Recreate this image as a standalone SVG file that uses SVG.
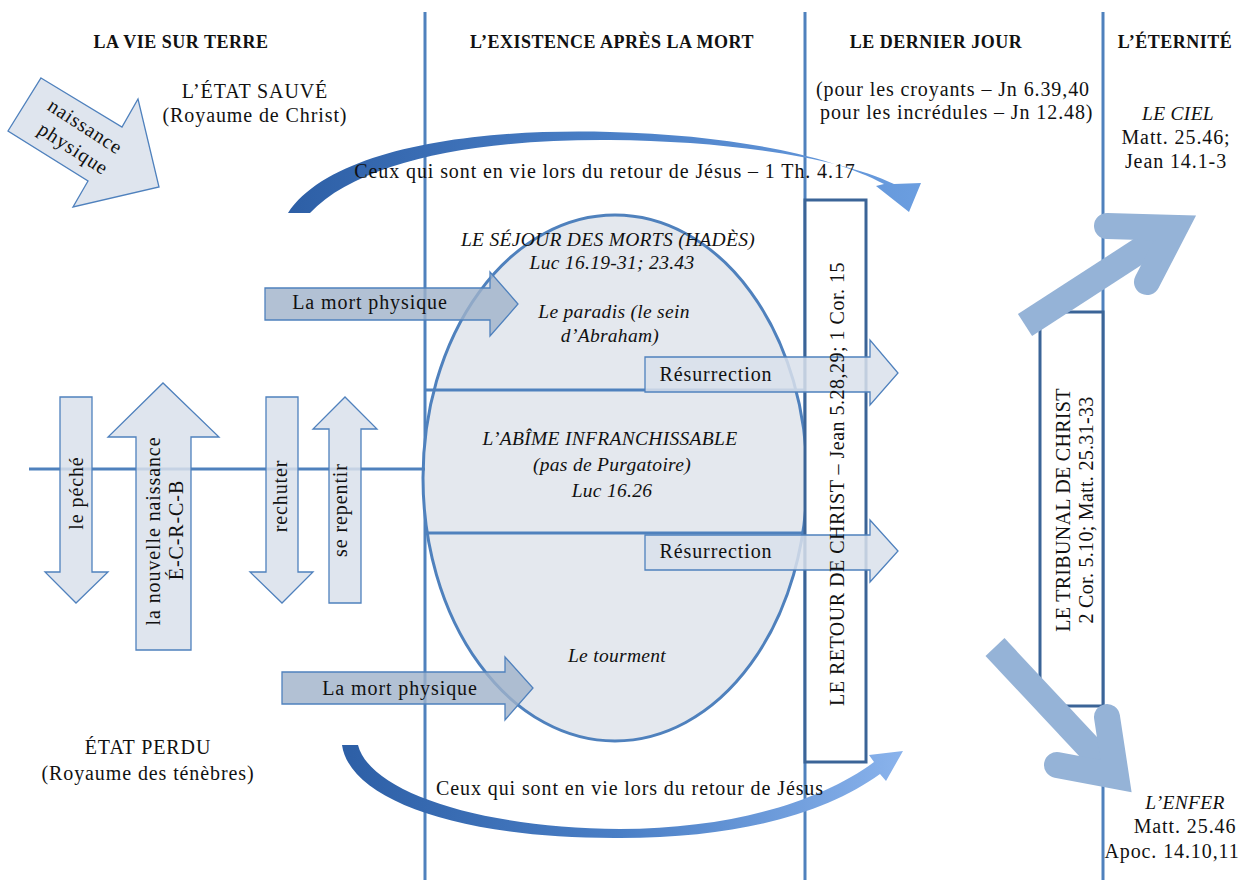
<svg xmlns="http://www.w3.org/2000/svg" width="1240" height="880" viewBox="0 0 1240 880">
<defs>
<style>
text{font-family:"Liberation Serif","DejaVu Serif",serif;font-size:20px;letter-spacing:0.9px;fill:#111;}
.h{font-weight:bold;font-size:18px;letter-spacing:0.5px;text-anchor:middle;}
.c{text-anchor:middle;}
.i{font-style:italic;font-size:19.5px;letter-spacing:0.3px;}
.vline{stroke:#4f81bd;stroke-width:3;fill:none;}
.box{fill:#fff;stroke:#3b6497;stroke-width:3;}
.light{fill:#d9e1eb;fill-opacity:0.85;stroke:#4f81bd;stroke-width:1.3;}
.dark{fill:#9fb2c9;fill-opacity:0.8;stroke:#4f81bd;stroke-width:1.3;}
.big{stroke:#95b3d7;stroke-width:26;fill:none;stroke-linecap:butt;}
.barb{stroke:#95b3d7;stroke-width:26;fill:none;stroke-linecap:round;stroke-linejoin:miter;stroke-miterlimit:6;}
</style>
<linearGradient id="gTop" x1="288" y1="0" x2="921" y2="0" gradientUnits="userSpaceOnUse">
<stop offset="0" stop-color="#2d5fa6"/><stop offset="0.5" stop-color="#4a7fc6"/><stop offset="1" stop-color="#6b9ee0"/>
</linearGradient>
<linearGradient id="gBot" x1="342" y1="0" x2="903" y2="0" gradientUnits="userSpaceOnUse">
<stop offset="0" stop-color="#2d5fa6"/><stop offset="0.5" stop-color="#4a7fc6"/><stop offset="1" stop-color="#8ab3ec"/>
</linearGradient>
</defs>
<rect width="1240" height="880" fill="#fff"/>

<g id="columns">
<line class="vline" x1="425" y1="12" x2="425" y2="880"/>
<line class="vline" x1="805" y1="12" x2="805" y2="880"/>
<line class="vline" x1="1103" y1="12" x2="1103" y2="880"/>
</g>

<g id="headers">
<text class="h" x="181" y="48">LA VIE SUR TERRE</text>
<text class="h" x="612" y="48">L’EXISTENCE APRÈS LA MORT</text>
<text class="h" x="936" y="48">LE DERNIER JOUR</text>
<text class="h" x="1175" y="48">L’ÉTERNITÉ</text>
</g>

<g id="etat-sauve">
<text class="c" x="255" y="98">L’ÉTAT SAUVÉ</text>
<text class="c" x="255" y="122">(Royaume de Christ)</text>
</g>

<g id="naissance-physique">
<polygon class="light" points="41,78 122,127 138,99 159,187 73,207 88,181 8,131"/>
<g transform="translate(85,127) rotate(33)"><text class="c" x="0" y="6">naissance</text></g>
<g transform="translate(73,149) rotate(33)"><text class="c" x="0" y="6">physique</text></g>
</g>

<g id="dernier-jour-note">
<text x="816" y="96">(pour les croyants – Jn 6.39,40</text>
<text x="820" y="119">pour les incrédules – Jn 12.48)</text>
</g>

<g id="ciel">
<text class="c i" x="1178" y="120">LE CIEL</text>
<text class="c" x="1176" y="144">Matt. 25.46;</text>
<text class="c" x="1176" y="168">Jean 14.1-3</text>
</g>

<g id="enfer">
<text class="c i" x="1185" y="809">L’ENFER</text>
<text class="c" x="1185" y="833">Matt. 25.46</text>
<text class="c" x="1172" y="858">Apoc. 14.10,11</text>
</g>

<g id="etat-perdu">
<text class="c" x="148" y="754">ÉTAT PERDU</text>
<text class="c" x="148" y="780">(Royaume des ténèbres)</text>
</g>

<g id="hades">
<ellipse cx="615" cy="478" rx="192" ry="263" fill="#e4e8ee" stroke="#4f81bd" stroke-width="3"/>
<line class="vline" x1="425" y1="390" x2="805" y2="390"/>
<line class="vline" x1="425" y1="533" x2="805" y2="533"/>
<text class="c i" x="608" y="246">LE SÉJOUR DES MORTS (HADÈS)</text>
<text class="c i" x="612" y="269">Luc 16.19-31; 23.43</text>
<text class="c i" x="614" y="318">Le paradis (le sein</text>
<text class="c i" x="610" y="342">d’Abraham)</text>
<text class="c i" x="610" y="445">L’ABÎME INFRANCHISSABLE</text>
<text class="c i" x="612" y="471">(pas de Purgatoire)</text>
<text class="c i" x="612" y="497">Luc 16.26</text>
<text class="c i" x="617" y="662">Le tourment</text>
</g>

<g id="vie-terrestre">
<line class="vline" x1="29" y1="469" x2="425" y2="469"/>
</g>

<g id="retour-box">
<rect class="box" x="805" y="200" width="61" height="562"/>
</g>
<g id="tribunal-box">
<rect class="box" x="1040" y="312" width="63" height="394"/>
</g>

<g id="connectors">
<path d="M288,213 C330,150 470,128 610,132 C730,135 830,155 884,184 L876,186 L909,212 L921,183 L894,184 C840,158 730,141 610,140 C480,139 360,160 310,213 Z" fill="url(#gTop)"/>
<path d="M342,745 L358,745 C370,792 480,828 620,829 C730,829 820,802 874,762 L869,755 L903,751 L886,781 L880,774 C826,813 740,838 620,838 C460,839 350,800 342,745 Z" fill="url(#gBot)"/>
<line class="big" x1="1025" y1="325" x2="1170" y2="231"/>
<polyline class="barb" points="1107,226 1175,228 1147,282"/>
<line class="big" x1="995" y1="647" x2="1110" y2="770"/>
<polyline class="barb" points="1107,717 1116,776 1057,765"/>
</g>

<g id="peche">
<polygon class="light" points="60,397 92,397 92,572 108,572 76,603 45,572 60,572"/>
<g transform="translate(83,493) rotate(-90)"><text class="c" x="0" y="0">le péché</text></g>
</g>
<g id="nouvelle-naissance">
<polygon class="light" points="136,650 191,650 191,437 219,437 163,383 108,437 136,437"/>
<g transform="translate(160,531) rotate(-90)"><text class="c" x="0" y="0">la nouvelle naissance</text></g>
<g transform="translate(183,530) rotate(-90)"><text class="c" x="0" y="0">É-C-R-C-B</text></g>
</g>
<g id="rechuter">
<polygon class="light" points="266,397 298,397 298,572 313,572 282,603 250,572 266,572"/>
<g transform="translate(287,496) rotate(-90)"><text class="c" x="0" y="0">rechuter</text></g>
</g>
<g id="repentir">
<polygon class="light" points="329,603 361,603 361,429 377,429 345,397 313,429 329,429"/>
<g transform="translate(347,510) rotate(-90)"><text class="c" x="0" y="0">se repentir</text></g>
</g>

<g id="mort-physique-1">
<polygon class="dark" points="265,288 490,288 490,272 518,304 490,336 490,320 265,320"/>
<text class="c" x="370" y="309">La mort physique</text>
</g>
<g id="mort-physique-2">
<polygon class="dark" points="282,672 505,672 505,657 533,688 505,720 505,704 282,704"/>
<text class="c" x="400" y="695">La mort physique</text>
</g>

<g id="resurrection-1">
<polygon class="light" points="645,357 870,357 870,340 898,373 870,405 870,392 645,392"/>
<text class="c" x="716" y="381">Résurrection</text>
</g>
<g id="resurrection-2">
<polygon class="light" points="645,535 870,535 870,520 898,551 870,582 870,570 645,570"/>
<text class="c" x="716" y="558">Résurrection</text>
</g>

<g id="retour-text">
<g transform="translate(844,484) rotate(-90)"><text class="c" x="0" y="0" style="letter-spacing:0.5px">LE RETOUR DE CHRIST –  Jean 5.28,29; 1 Cor. 15</text></g>
</g>
<g id="tribunal-text">
<g transform="translate(1070,510) rotate(-90)"><text class="c" x="0" y="0" style="letter-spacing:0.3px">LE TRIBUNAL DE CHRIST</text></g>
<g transform="translate(1093,510) rotate(-90)"><text class="c" x="0" y="0" style="letter-spacing:0.3px">2 Cor. 5.10; Matt. 25.31-33</text></g>
</g>

<g id="ceux-texts">
<text class="c" x="605" y="178">Ceux qui sont en vie lors du retour de Jésus – 1 Th. 4.17</text>
<text class="c" x="630" y="795">Ceux qui sont en vie lors du retour de Jésus</text>
</g>
</svg>
